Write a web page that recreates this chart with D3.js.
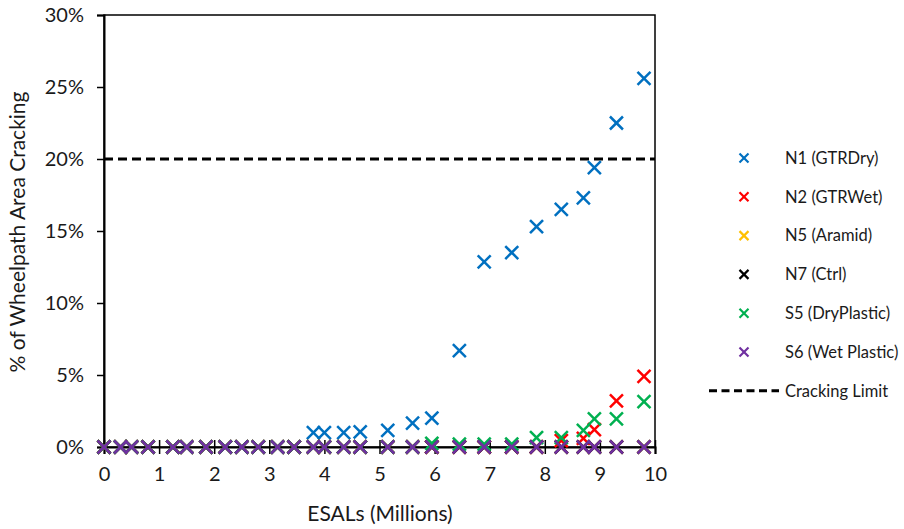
<!DOCTYPE html>
<html lang='en'>
<head>
    <title>Wheelpath Cracking vs ESALs</title>
    <meta charset='UTF-8'>
    <script src='https://d3js.org/d3.v7.min.js'></script>
    <style>
      body { margin: 0; background: #fff; }
      svg text { font-family: Lato, 'Open Sans', sans-serif; fill: #1a1a1a; }
    </style>
</head>
<body>
<svg width='904' height='529'></svg>

<script>
  // ESALs (millions) shared by every section
  const esals = [0, 0.3, 0.5, 0.8, 1.25, 1.5, 1.85, 2.2, 2.5, 2.8, 3.15, 3.45, 3.8, 4.0,
                 4.35, 4.65, 5.15, 5.6, 5.95, 6.45, 6.9, 7.4, 7.85, 8.3, 8.7, 8.9, 9.3, 9.8]

  // % wheelpath area cracking
  const n1 = [0, 0, 0, 0, 0, 0, 0, 0, 0, 0, 0, 0, 1.0, 1.0,
              1.0, 1.05, 1.15, 1.65, 2.0, 6.7, 12.85, 13.5, 15.3, 16.5, 17.3, 19.4, 22.5, 25.6]
  const n2 = [0, 0, 0, 0, 0, 0, 0, 0, 0, 0, 0, 0, 0, 0,
              0, 0, 0, 0, 0, 0, 0, 0, 0, 0.45, 0.6, 1.2, 3.2, 4.9]
  const n5 = esals.map(() => 0)
  const n7 = esals.map(() => 0)
  const s5 = [0, 0, 0, 0, 0, 0, 0, 0, 0, 0, 0, 0, 0, 0,
              0, 0, 0, 0, 0.25, 0.2, 0.2, 0.2, 0.65, 0.65, 1.15, 1.95, 1.95, 3.15]
  const s6 = esals.map(() => 0)

  const crackingLimit = 20

  const seriesNames = ['N1 (GTRDry)', 'N2 (GTRWet)', 'N5 (Aramid)', 'N7 (Ctrl)', 'S5 (DryPlastic)', 'S6 (Wet Plastic)']
  const seriesValues = [n1, n2, n5, n7, s5, s6]
  const seriesColors = ['#0070C0', '#FF0000', '#FFC000', '#000000', '#00B050', '#7030A0']

  const xTicks = [0, 1, 2, 3, 4, 5, 6, 7, 8, 9, 10]
  const yTicks = [0, 5, 10, 15, 20, 25, 30]

  const svg = d3.select('svg')
  const mLeft = 104, mRight = 655, mTop = 15, mBottom = 447

  const x = d3.scaleLinear().domain([0, 10]).range([mLeft, mRight])
  const y = d3.scaleLinear().domain([0, 30]).range([mBottom, mTop])

  // plot area frame
  svg.append('rect')
    .attr('x', mLeft).attr('y', mTop)
    .attr('width', mRight - mLeft).attr('height', mBottom - mTop)
    .attr('fill', 'none').attr('stroke', '#000').attr('stroke-width', 1.5)

  // y axis
  const yAxis = svg.append('g')
    .attr('transform', `translate(${mLeft},0)`)
    .call(d3.axisLeft(y).tickValues(yTicks).tickSize(7).tickPadding(13).tickFormat(d => d + '%'))
  yAxis.select('.domain').attr('stroke-width', 2)
  yAxis.selectAll('.tick line').attr('stroke-width', 1.5)
  yAxis.selectAll('text').style('font-size', '20px').style('font-family', 'Lato, sans-serif').attr('fill', '#1a1a1a')

  // x axis with crossing ticks
  const xAxis = svg.append('g')
    .attr('transform', `translate(0,${mBottom})`)
    .call(d3.axisBottom(x).tickValues(xTicks).tickSize(7).tickPadding(13))
  xAxis.select('.domain').attr('stroke-width', 2)
  xAxis.selectAll('.tick line').attr('y1', -7).attr('stroke-width', 1.5)
  xAxis.selectAll('text').style('font-size', '20px').style('font-family', 'Lato, sans-serif').attr('fill', '#1a1a1a')

  // cracking limit
  svg.append('line')
    .attr('x1', x(0)).attr('x2', x(10))
    .attr('y1', y(crackingLimit)).attr('y2', y(crackingLimit))
    .attr('stroke', '#000').attr('stroke-width', 3).attr('stroke-dasharray', '9,5')

  function cross(g, size, width, color) {
    g.append('line').attr('x1', -size).attr('y1', -size).attr('x2', size).attr('y2', size)
      .attr('stroke', color).attr('stroke-width', width)
    g.append('line').attr('x1', -size).attr('y1', size).attr('x2', size).attr('y2', -size)
      .attr('stroke', color).attr('stroke-width', width)
  }

  seriesValues.forEach((vals, i) => {
    svg.append('g').selectAll('g')
      .data(vals.map((v, j) => ({ x: esals[j], y: v })))
      .enter().append('g')
        .attr('transform', d => `translate(${x(d.x)},${y(d.y)})`)
        .each(function() { cross(d3.select(this), 6.5, 2.5, seriesColors[i]) })
  })

  // legend
  const legend = svg.append('g')
  seriesNames.forEach((name, i) => {
    const ly = 158 + i * 38.8
    const m = legend.append('g').attr('transform', `translate(744,${ly})`)
    cross(m, 4.5, 2.2, seriesColors[i])
    legend.append('text').attr('x', 785).attr('y', ly).attr('dy', '0.35em')
      .style('font-size', '16.5px').text(name)
  })
  const limY = 158 + 6 * 38.8
  legend.append('line').attr('x1', 709).attr('x2', 779).attr('y1', limY).attr('y2', limY)
    .attr('stroke', '#000').attr('stroke-width', 3).attr('stroke-dasharray', '8,4.5')
  legend.append('text').attr('x', 785).attr('y', limY).attr('dy', '0.35em')
    .style('font-size', '16.5px').text('Cracking Limit')

  // axis titles
  svg.append('text').attr('x', 380).attr('y', 514).attr('dy', '0.35em')
    .attr('text-anchor', 'middle').style('font-size', '21px').text('ESALs (Millions)')
  svg.append('text').attr('transform', 'translate(18,232) rotate(-90)').attr('dy', '0.35em')
    .attr('text-anchor', 'middle').style('font-size', '21px').text('% of Wheelpath Area Cracking')
</script>
</body>
</html>
